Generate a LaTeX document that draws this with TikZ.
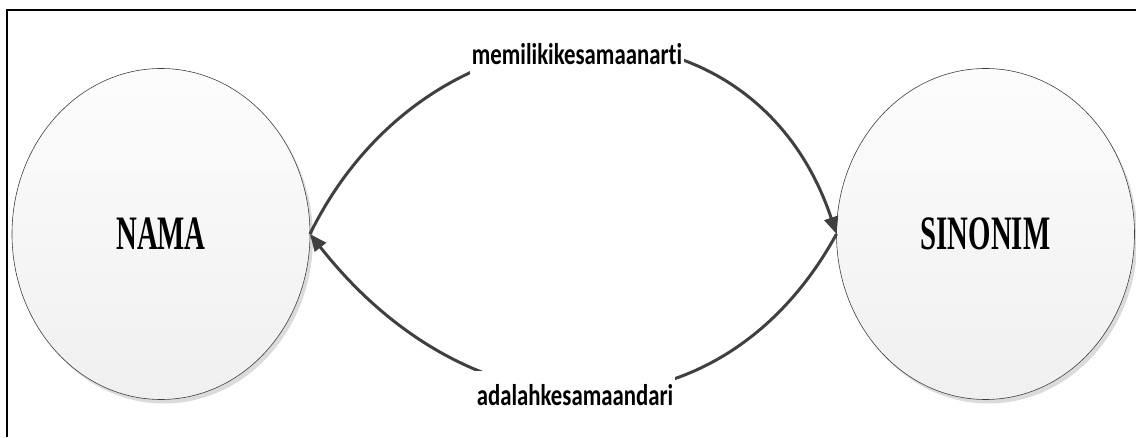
\documentclass[tikz,border=0pt]{standalone}
\usepackage{fontspec}
\newfontfamily\entfont[FakeStretch=0.6]{Liberation Serif}
\newfontfamily\relfont[FakeStretch=0.76,Ligatures=NoCommon]{Carlito}
\usetikzlibrary{arrows.meta,positioning,shapes.geometric,shadows}

\begin{document}
\begin{tikzpicture}[x=1pt,y=1pt,>=Stealth,
entity/.style={ellipse,draw=black!75,line width=0.6pt,minimum width=298pt,minimum height=331pt,
  inner sep=0pt,outer sep=0pt,top color=black!1,bottom color=black!6,
  drop shadow={shadow xshift=3pt,shadow yshift=-4pt,fill=black!14,opacity=1},
  font=\entfont\bfseries\fontsize{48}{50}\selectfont},
rel/.style={fill=white,inner xsep=2pt,inner ysep=13pt,anchor=base,text height=21pt,text depth=0pt,
  font=\relfont\bfseries\fontsize{30}{32}\selectfont},
link/.style={draw=black!75,line width=3pt,-{Triangle[length=17pt,width=14pt]}}]
\useasboundingbox (0,0) rectangle (1136,437);
\draw[line width=2pt] (7.3,0) -- (7.3,427) -- (1136,427);
\node[entity] (nama) at (161,203) {NAMA};
\node[entity] (sinonim) at (985.5,203) {SINONIM};
\draw[link] (nama.east) .. controls +(120,245) and +(-85,255) .. (sinonim.west);
\draw[link] (sinonim.west) .. controls +(-115,-210) and +(165,-210) .. (nama.east);
\node[rel] (punya) at (577,372) {memilikikesamaanarti};
\node[rel] (dari) at (575,32) {adalahkesamaandari};
\end{tikzpicture}
\end{document}
